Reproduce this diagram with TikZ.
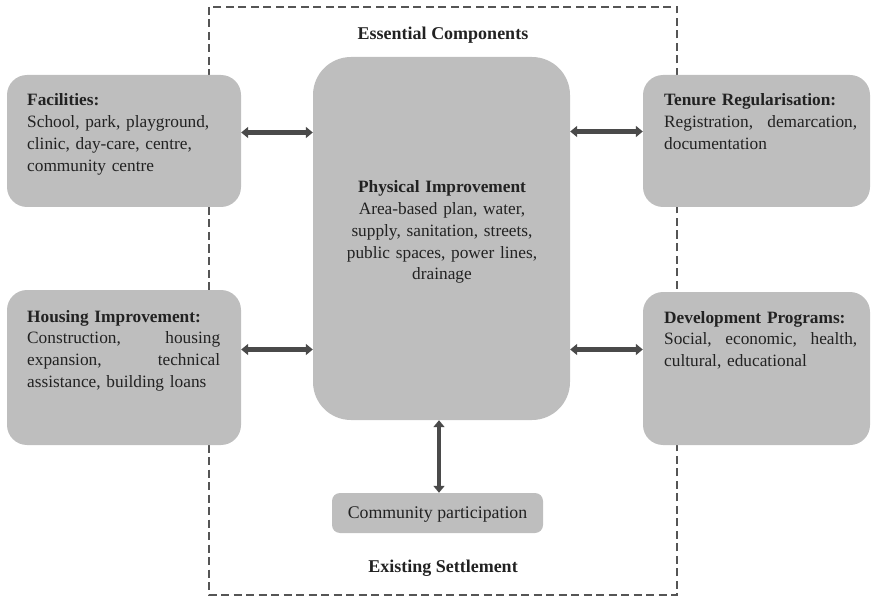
\documentclass[tikz,border=0pt]{standalone}
\usepackage{fontspec}
\setmainfont{Liberation Serif}
\usetikzlibrary{arrows.meta}
\definecolor{boxgray}{RGB}{190,190,190}
\definecolor{arrowgray}{RGB}{74,74,74}
\definecolor{txtgray}{RGB}{34,34,34}
\definecolor{dashgray}{RGB}{85,85,85}
\tikzset{
  box/.style={fill=boxgray, draw=none, rounded corners=20pt, inner sep=0pt},
  txt/.style={text=txtgray, inner sep=0pt, font=\fontsize{17.3}{21.7}\selectfont},
  blocktxt/.style={txt, text width=193pt, align=left, anchor=base west},
  headtxt/.style={txt, anchor=base, font=\fontsize{18}{21.7}\selectfont\bfseries},
  biarrow/.style={line width=4.5pt, draw=arrowgray,
    {Triangle[length=7pt,width=11pt]}-{Triangle[length=7pt,width=11pt]}},
  frame/.style={draw=dashgray, line width=1.4pt, dash pattern=on 8pt off 4.5pt}
}
\begin{document}
\begin{tikzpicture}[x=1pt,y=-1pt]
\useasboundingbox (0,0) rectangle (871,599);
% dashed frame
\draw[frame] (209,7) rectangle (677,595);
% boxes
\node[box, minimum width=234pt, minimum height=132pt] (fac) at (124,141) {};
\node[box, minimum width=234pt, minimum height=155pt] (house) at (124,367.5) {};
\node[box, minimum width=227pt, minimum height=132pt] (ten) at (756.5,141) {};
\node[box, minimum width=227pt, minimum height=153pt] (dev) at (756.5,368.5) {};
\node[box, rounded corners=38pt, minimum width=257pt, minimum height=363pt] (phys) at (441.5,238.5) {};
\node[box, rounded corners=8pt, minimum width=211pt, minimum height=40pt] (comm) at (437.5,513) {};
% texts
\node[headtxt] (ess) at (443,40) {Essential Components};
\node[headtxt] (exist) at (443,572) {Existing Settlement};
\node[txt, anchor=base, font=\fontsize{17.8}{21.7}\selectfont] (commT) at (437.5,518) {Community participation};
\node[blocktxt] (facT) at (27,106) {\textbf{Facilities:}\\School, park, playground,\\clinic, day-care, centre,\\community centre};
\node[blocktxt] (houseT) at (27,322) {\textbf{Housing Improvement:}\\Construction,\hfill housing\\expansion,\hfill technical\\assistance, building loans};
\node[blocktxt] (tenT) at (664,106) {\textbf{Tenure Regularisation:}\\Registration,\hfill demarcation,\\documentation};
\node[blocktxt] (devT) at (664,323) {\textbf{Development Programs:}\\Social,\hfill economic,\hfill health,\\cultural, educational};
\node[txt, text width=250pt, align=center, anchor=base] (physT) at (442,193) {\textbf{Physical Improvement}\\Area-based plan, water,\\supply, sanitation, streets,\\public spaces, power lines,\\drainage};
% arrows
\draw[biarrow] (fac.east |- 0,132.5) -- (phys.west |- 0,132.5);
\draw[biarrow] (phys.east |- 0,131.5) -- (ten.west |- 0,131.5);
\draw[biarrow] (house.east |- 0,349.5) -- (phys.west |- 0,349.5);
\draw[biarrow] (phys.east |- 0,349.5) -- (dev.west |- 0,349.5);
\draw[biarrow] (phys.south -| 439,0) -- (comm.north -| 439,0);
\end{tikzpicture}
\end{document}
